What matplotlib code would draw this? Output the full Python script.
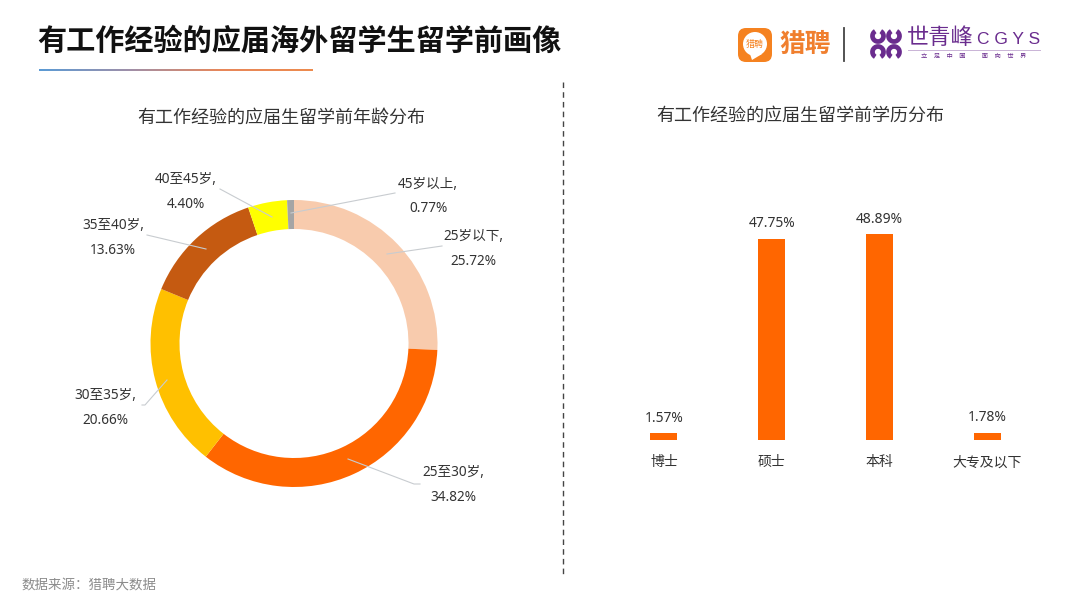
import numpy as np
import matplotlib
matplotlib.use("Agg")
import matplotlib.pyplot as plt
from matplotlib.colors import LinearSegmentedColormap
from matplotlib.patches import Arc, Circle, FancyBboxPatch, Polygon

plt.rcParams['font.family'] = ['Noto Sans', 'Noto Sans CJK SC', 'DejaVu Sans']

# donut
age_labels = ['25岁以下', '25至30岁', '30至35岁', '35至40岁', '40至45岁', '45岁以上']
age_values = [25.72, 34.82, 20.66, 13.63, 4.40, 0.77]
age_colors = ['#F8CBAD', '#FF6600', '#FFC000', '#C55A11', '#FFFF00', '#A5A5A5']

# bars
edu_labels = ['博士', '硕士', '本科', '大专及以下']
edu_values = [1.57, 47.75, 48.89, 1.78]

W, H = 1080, 608
text_color = '#333333'

fig = plt.figure(figsize=(W / 100, H / 100), dpi=100, facecolor='white')


def px_axes(left, top, right, bottom):
    return fig.add_axes([left / W, 1 - bottom / H, (right - left) / W, (bottom - top) / H])


# overlay in pixel coords, used for title, logos, leader lines
bg = px_axes(0, 0, W, H)
bg.set_xlim(0, W)
bg.set_ylim(H, 0)
bg.axis('off')

bg.text(37, 42, '有工作经验的应届海外留学生留学前画像', fontsize=21, fontweight='bold',
        color='#111111', va='center', ha='left')

# underline gradient
grad = LinearSegmentedColormap.from_list('u', ['#5B9BD5', '#A08FA8', '#E8875A', '#ED8B4E'])
bg.imshow(np.linspace(0, 1, 256).reshape(1, -1), cmap=grad, aspect='auto',
          extent=(39, 313, 71, 69))
bg.set_xlim(0, W)
bg.set_ylim(H, 0)

bg.plot([563, 563], [82, 576], color='#444444', lw=1, ls=(0, (4, 3)))

bg.text(281, 118, '有工作经验的应届生留学前年龄分布', fontsize=13, color=text_color, ha='center', va='center')
bg.text(800, 116, '有工作经验的应届生留学前学历分布', fontsize=13, color=text_color, ha='center', va='center')
bg.text(21, 585, '数据来源\uff1a猎聘大数据', fontsize=9.7, color='#8C8C8C', ha='left', va='center')

# liepin logo
bg.add_patch(FancyBboxPatch((742, 32), 26, 26, boxstyle='round,pad=4,rounding_size=8',
                            fc='#F58220', ec='none'))
bg.add_patch(Circle((755, 44), 12, fc='white', ec='none'))
bg.add_patch(Polygon([[750, 54], [762, 54], [752, 60]], fc='white', ec='none'))
bg.text(755, 45, '猎聘', fontsize=6.5, color='#F58220', ha='center', va='center')
bg.text(805, 45, '猎聘', fontsize=18.5, color='#F07F2E', ha='center', va='center', fontweight='bold')
bg.plot([844, 844], [28, 61], color='#444444', lw=1.3)

# cgys logo
purple = '#6A2C8E'
for lx in (878, 894):
    bg.add_patch(Arc((lx, 36), 11, 11, theta1=-60, theta2=240, color=purple, lw=3.4))
    bg.add_patch(Arc((lx, 52), 11, 11, theta1=120, theta2=420, color=purple, lw=3.4))
bg.text(940, 39, '世青峰', fontsize=16, color=purple, ha='center', va='center')
bg.text(1009, 39, 'C G Y S', fontsize=12.5, color=purple, ha='center', va='center', family='Liberation Sans')
bg.plot([908, 1040], [49.5, 49.5], color='#C9B3D6', lw=0.7)
bg.text(974, 56, '立    足    中    国          面    向    世    界', fontsize=4.5, color=purple,
        ha='center', va='center')

# donut
cx, cy, r = 294, 343.5, 143.5
ax = px_axes(cx - r - 2, cy - r - 2, cx + r + 2, cy + r + 2)
ax.pie(age_values, colors=age_colors, startangle=90, counterclock=False, radius=1,
       wedgeprops=dict(width=29 / r, linewidth=0))
ax.set_xlim(-(r + 2) / r, (r + 2) / r)
ax.set_ylim(-(r + 2) / r, (r + 2) / r)

# leader lines and labels on top
top = px_axes(0, 0, W, H)
top.set_xlim(0, W)
top.set_ylim(H, 0)
top.axis('off')
top.patch.set_alpha(0)

label_pos = [(473, 248), (453, 484), (105, 407), (113, 237), (186, 191), (428, 195.5)]
leaders = [
    [(387, 254), (442, 246)],
    [(348, 459), (414, 484), (420, 484)],
    [(167, 380), (145, 405), (142, 405)],
    [(206, 249), (147, 235)],
    [(272, 217), (220, 189)],
    [(291, 213), (395, 193)],
]
for name, val, pos, ln in zip(age_labels, age_values, label_pos, leaders):
    top.plot([p[0] for p in ln], [p[1] for p in ln], color='#C8CCD0', lw=0.8)
    top.text(pos[0], pos[1] + 1, f'{name},\n{val:.2f}%', fontsize=9.8, color=text_color,
             ha='center', va='center', linespacing=1.85)

# bars
bx = px_axes(610, 160, 1041, 440)
x = np.arange(len(edu_values))
bars = bx.bar(x, edu_values, width=27 / 107.7, color='#FF6600')
bx.bar_label(bars, labels=[f'{v:.2f}%' for v in edu_values], padding=5.5, fontsize=10, color=text_color)
bx.set_xlim(-0.5, 3.5)
bx.set_ylim(0, 280 / 4.21)
bx.set_xticks(x)
bx.set_xticklabels(edu_labels, fontsize=10, color=text_color)
bx.tick_params(axis='x', length=0, pad=11)
bx.set_yticks([])
for s in bx.spines.values():
    s.set_visible(False)
bx.patch.set_alpha(0)

fig.savefig('out.png', dpi=100)
